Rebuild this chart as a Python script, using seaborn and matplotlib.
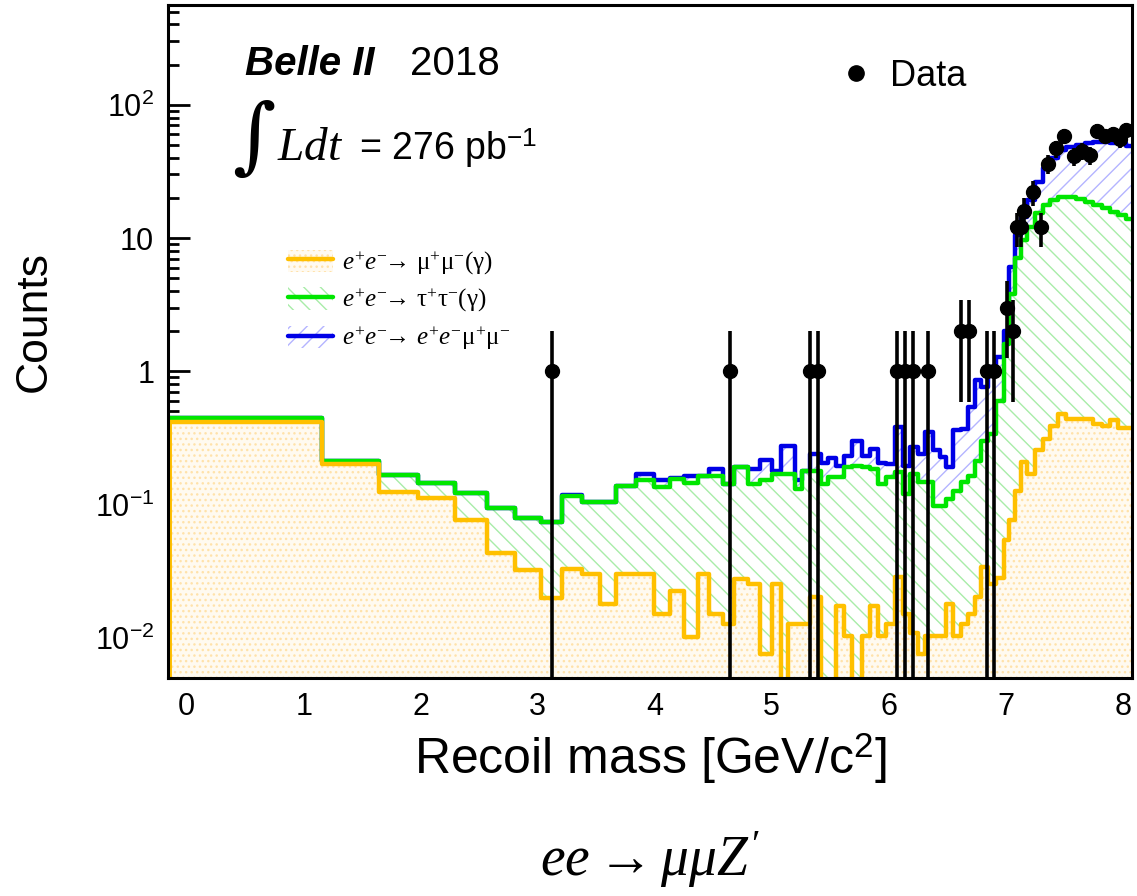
import numpy as np
import pandas as pd
import matplotlib
matplotlib.use("Agg")
import matplotlib.pyplot as plt
import seaborn as sns
from matplotlib.lines import Line2D
from matplotlib.patches import Patch
from matplotlib.ticker import FixedLocator, FixedFormatter, MultipleLocator, LogLocator, NullFormatter

# bin edges of the recoil mass histogram [GeV/c^2]
edges = [-0.16, 1.16, 1.64, 1.98, 2.29, 2.57, 2.81, 3.03, 3.21, 3.38,
         3.53, 3.67, 3.84, 3.99, 4.13, 4.25, 4.37, 4.46, 4.58, 4.68,
         4.80, 4.90, 5.00, 5.08, 5.14, 5.20, 5.26, 5.33, 5.42, 5.48,
         5.55, 5.62, 5.69, 5.77, 5.84, 5.91, 5.98, 6.05, 6.12, 6.18,
         6.25, 6.31, 6.38, 6.44, 6.49, 6.55, 6.62, 6.68, 6.74, 6.79,
         6.85, 6.92, 6.99, 7.03, 7.08, 7.13, 7.18, 7.25, 7.32, 7.38,
         7.45, 7.52, 7.60, 7.68, 7.75, 7.82, 7.89, 7.96, 8.03, 8.10]

# stacked MC (cumulative)
mumu = [0.415, 0.202, 0.125, 0.112, 0.076, 0.043, 0.0325, 0.020, 0.033, 0.030,
        0.018, 0.030, 0.030, 0.0151, 0.0225, 0.0101, 0.030, 0.0151, 0.0127, 0.0277,
        0.0253, 0.0076, 0.0253, 0.003, 0.0127, 0.0127, 0.0127, 0.0201, 0.003, 0.003,
        0.0174, 0.0104, 0.003, 0.0104, 0.0174, 0.0104, 0.0127, 0.0284, 0.0151, 0.0109,
        0.0076, 0.0104, 0.0104, 0.0104, 0.018, 0.0104, 0.0127, 0.0151, 0.0201, 0.034,
        0.0253, 0.028, 0.054, 0.076, 0.127, 0.21, 0.17, 0.255, 0.312, 0.39,
        0.48, 0.44, 0.44, 0.44, 0.405, 0.386, 0.43, 0.375, 0.375]
mumu_tautau = [0.45, 0.214, 0.167, 0.146, 0.122, 0.095, 0.080, 0.074, 0.116, 0.104,
               0.104, 0.137, 0.152, 0.135, 0.156, 0.145, 0.165, 0.165, 0.143, 0.19,
               0.143, 0.152, 0.17, 0.17, 0.17, 0.132, 0.18, 0.18, 0.143, 0.16,
               0.16, 0.193, 0.195, 0.19, 0.185, 0.143, 0.16, 0.175, 0.12, 0.17,
               0.147, 0.147, 0.098, 0.098, 0.11, 0.127, 0.147, 0.165, 0.214, 0.30,
               0.34, 0.6, 1.6, 3.8, 7.1, 9.7, 12.2, 15.3, 17.7, 19.3,
               20.2, 20.2, 19.6, 18.7, 17.7, 16.7, 15.8, 14.9, 14.0]
total = [0.45, 0.214, 0.167, 0.146, 0.122, 0.095, 0.080, 0.074, 0.118, 0.105,
         0.105, 0.139, 0.17, 0.152, 0.158, 0.163, 0.165, 0.186, 0.143, 0.19,
         0.186, 0.215, 0.18, 0.273, 0.273, 0.152, 0.18, 0.238, 0.204, 0.222,
         0.196, 0.23, 0.30, 0.233, 0.262, 0.205, 0.20, 0.381, 0.196, 0.27,
         0.24, 0.35, 0.255, 0.227, 0.19, 0.36, 0.37, 0.54, 0.86, 0.76,
         1.08, 1.28, 2.0, 6.1, 10.5, 14.5, 19.3, 26.4, 33.4, 39.8,
         45.8, 48.6, 50.0, 51.5, 52.9, 52.9, 51.5, 51.5, 49.0]

# data points
data_x = [3.12, 4.64, 5.33, 5.40, 6.07, 6.14, 6.21, 6.34, 6.62, 6.69,
          6.84, 6.90, 7.01, 7.06, 7.10, 7.13, 7.16, 7.23, 7.30, 7.36,
          7.43, 7.50, 7.58, 7.65, 7.72, 7.78, 7.85, 7.92, 7.98, 8.03]
data_n = [1, 1, 1, 1, 1, 1, 1, 1, 2, 2,
          1, 1, 3, 2, 12, 12, 16, 22, 12, 36,
          47, 58, 41, 45, 42, 64, 58, 60, 55, 65]

ytick_vals = [0.01, 0.1, 1, 10, 100]
ytick_labels = [r"$\mathsf{10^{-2}}$", r"$\mathsf{10^{-1}}$", "1", "10", r"$\mathsf{10^{2}}$"]
labels = [r"$e^{+}e^{-}\!\!\rightarrow\,\mathrm{\mu^{+}\mu^{-}(\gamma)}$",
          r"$e^{+}e^{-}\!\!\rightarrow\,\mathrm{\tau^{+}\tau^{-}(\gamma)}$",
          r"$e^{+}e^{-}\!\!\rightarrow\,e^{+}e^{-}\mathrm{\mu^{+}\mu^{-}}$"]

c_orange, c_green, c_blue = "#ffc000", "#00e600", "#0000e6"
f_orange, h_orange = "#fffaf0", "#ffe2aa"
h_green, h_blue = "#a8eca8", "#b4b4ff"

sns.set_theme(style="ticks")
plt.rcParams['font.family'] = ['Liberation Sans', 'DejaVu Sans']
plt.rcParams.update({
    'mathtext.fontset': 'custom',
    'mathtext.rm': 'Liberation Serif',
    'mathtext.it': 'Liberation Serif:italic',
    'mathtext.bf': 'Liberation Serif:bold',
    'mathtext.sf': 'Liberation Sans',
    'hatch.linewidth': 1.0,
    'axes.linewidth': 2.2,
    'axes.edgecolor': 'black',
    'text.color': 'black',
    'axes.labelcolor': 'black',
    'xtick.color': 'black',
    'ytick.color': 'black',
})

fig = plt.figure(figsize=(11.37, 8.96), dpi=100)
ax = fig.add_axes([0.1478, 0.2433, 0.8478, 0.7511])
ax.set_yscale('log')

e = np.array(edges)
centers = (e[:-1] + e[1:]) / 2
df = pd.DataFrame({'mass': centers, 'mumu': mumu, 'tautau': mumu_tautau, 'total': total})

floor = 1e-4
ext = lambda v: np.append(v, v[-1])
ax.fill_between(e, floor, ext(df['mumu'].values), step='post',
                facecolor=f_orange, edgecolor=h_orange, hatch='...', lw=0, zorder=1)
ax.fill_between(e, ext(df['mumu'].values), ext(df['tautau'].values), step='post',
                facecolor='none', edgecolor=h_green, hatch='\\\\', lw=0, zorder=1)
ax.fill_between(e, ext(df['tautau'].values), ext(df['total'].values), step='post',
                facecolor='none', edgecolor=h_blue, hatch='//', lw=0, zorder=1)

for col, c in [('total', c_blue), ('tautau', c_green), ('mumu', c_orange)]:
    sns.histplot(data=df, x='mass', weights=col, bins=edges, element='step',
                 fill=False, color=c, linewidth=3.2, ax=ax, zorder=2)
ax.vlines(edges[0], floor, mumu[0], color=c_orange, lw=5, zorder=2)

n = np.array(data_n, dtype=float)
err_lo = np.where(n - np.sqrt(n) <= 0, n - 1e-5, np.sqrt(n))
ax.errorbar(data_x, data_n, yerr=[err_lo, np.sqrt(n)], fmt='o', color='black',
            ms=10, elinewidth=2.6, capsize=0, zorder=3)

ax.set_xlim(-0.16, 8.08)
ax.set_ylim(0.005, 560)
ax.set_xlabel("Recoil mass [GeV/c$^{\\mathsf{2}}$]", fontsize=36, labelpad=6)
ax.set_ylabel("Counts", fontsize=32)
ax.yaxis.set_label_coords(-0.118, 0.53)
ax.xaxis.set_major_locator(MultipleLocator(1))
ax.xaxis.set_minor_locator(MultipleLocator(0.2))
ax.yaxis.set_major_locator(FixedLocator(ytick_vals))
ax.yaxis.set_major_formatter(FixedFormatter(ytick_labels))
ax.yaxis.set_minor_locator(LogLocator(base=10, subs=np.arange(2, 10)))
ax.yaxis.set_minor_formatter(NullFormatter())
ax.tick_params(which='both', direction='in', top=False, right=False, width=2, labelsize=22)
ax.tick_params(which='major', length=16, pad=10)
ax.tick_params(which='minor', length=8)

# MC legend
handles = [(Patch(facecolor=f_orange, edgecolor=h_orange, hatch='...', lw=0), Line2D([], [], color=c_orange, lw=3.2)),
           (Patch(facecolor='white', edgecolor=h_green, hatch='\\\\', lw=0), Line2D([], [], color=c_green, lw=3.2)),
           (Patch(facecolor='white', edgecolor=h_blue, hatch='//', lw=0), Line2D([], [], color=c_blue, lw=3.2))]
leg = ax.legend(handles, labels, loc='upper left', bbox_to_anchor=(288 / 1137, 1 - 249 / 896),
                bbox_transform=fig.transFigure, frameon=False, fontsize=18, borderpad=0,
                borderaxespad=0, handlelength=1.8, handleheight=1.0, handletextpad=0.35, labelspacing=0.4)
ax.add_artist(leg)
ax.legend([Line2D([], [], marker='o', ls='none', color='black', ms=11)], ['Data'],
          loc='center left', bbox_to_anchor=(838 / 1137, 1 - 76 / 896), bbox_transform=fig.transFigure,
          frameon=False, fontsize=26, borderpad=0, borderaxespad=0, handlelength=1.0, handletextpad=0.45)

fig.text(245 / 1137, 1 - 75 / 896, "Belle II", fontsize=29, fontweight='bold', fontstyle='italic', va='baseline')
fig.text(410 / 1137, 1 - 75 / 896, "2018", fontsize=29, va='baseline')
fig.text(232 / 1137, 1 - 140 / 896, "\u222b", fontsize=60, family=['DejaVu Serif'], va='center')
fig.text(277 / 1137, 1 - 160 / 896, r"$Ldt$", fontsize=34, va='baseline')
fig.text(359 / 1137, 1 - 160 / 896, "= 276 pb$^{\\mathsf{-1}}$", fontsize=27, va='baseline')
fig.text(650 / 1137, 1 - 860 / 896, r"$ee \rightarrow \mu\mu Z'$", fontsize=40, ha='center', va='center')

fig.savefig("out.png", dpi=100)
